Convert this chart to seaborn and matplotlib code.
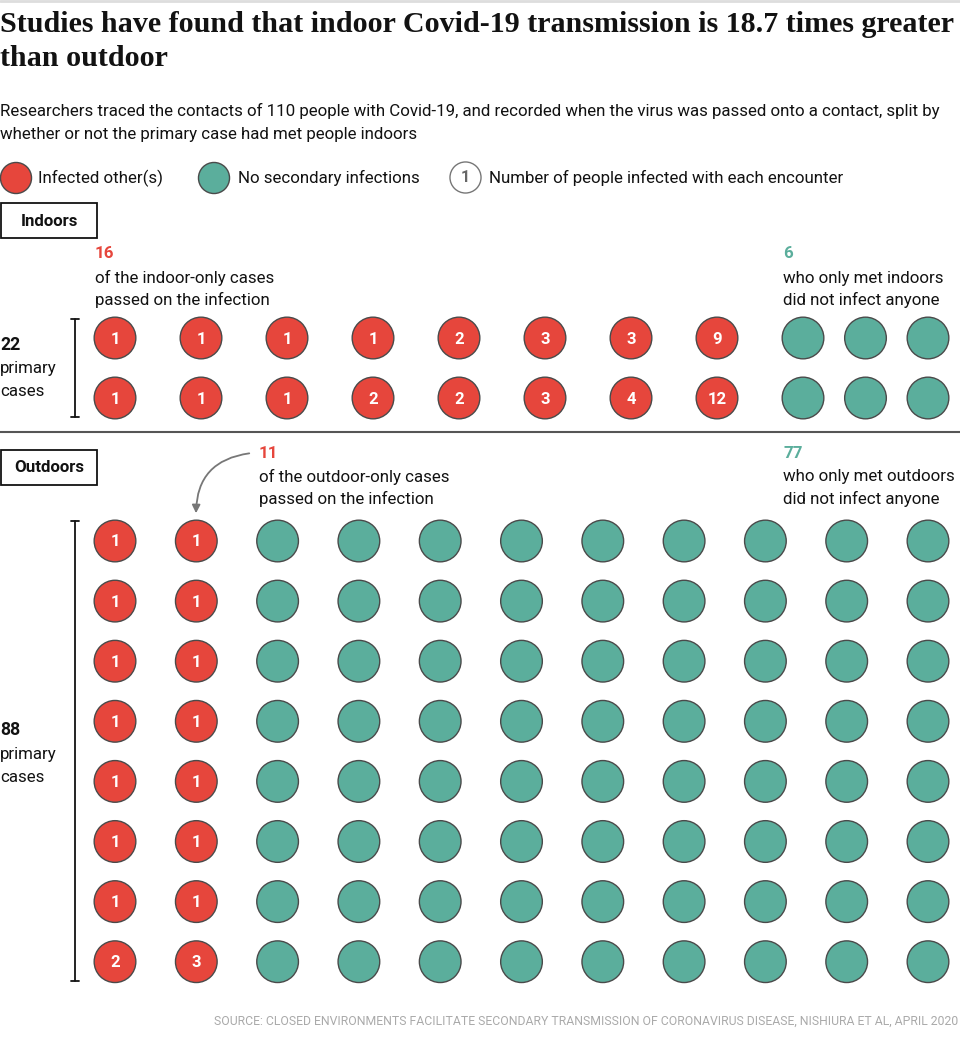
import numpy as np
import pandas as pd
import seaborn as sns
import matplotlib.pyplot as plt
from matplotlib.patches import Rectangle

# data
indoor_row1 = [1, 1, 1, 1, 2, 3, 3, 9]
indoor_row2 = [1, 1, 1, 2, 2, 3, 4, 12]
indoor_none = 6          # indoor cases with no secondary infection
outdoor_col1 = [1, 1, 1, 1, 1, 1, 1, 2]
outdoor_col2 = [1, 1, 1, 1, 1, 1, 1, 3]
outdoor_none = 72        # green dots drawn in the outdoor grid
outdoor_cols = 11

RED = '#e6463c'
TEAL = '#5bae9c'
EDGE = '#4a4a4a'
DARK = '#121212'
FS = 12.2  # body text size

sns.set_theme(style='white')
plt.rcParams['font.family'] = ['Roboto', 'DejaVu Sans']

# build dot table (pixel layout)
rows = []
for r, vals in enumerate([indoor_row1, indoor_row2]):
    for c, v in enumerate(vals):
        rows.append(dict(x=115 + c * 86, y=338 + r * 60, n=v, status='infected'))
for i in range(indoor_none):
    r, c = divmod(i, 3)
    rows.append(dict(x=803 + c * 62.5, y=338 + r * 60, n=0, status='none'))
for c, col in enumerate([outdoor_col1, outdoor_col2]):
    for r, v in enumerate(col):
        rows.append(dict(x=115 + c * 81.3, y=541 + r * 60.1, n=v, status='infected'))
for i in range(outdoor_none):
    r, c = divmod(i, outdoor_cols - 2)
    rows.append(dict(x=115 + (c + 2) * 81.3, y=541 + r * 60.1, n=0, status='none'))
dots = pd.DataFrame(rows)

fig = plt.figure(figsize=(9.6, 10.48), dpi=100)
ax = fig.add_axes([0, 0, 1, 1])
ax.set_xlim(0, 960)
ax.set_ylim(1048, 0)
ax.axis('off')

sns.scatterplot(data=dots, x='x', y='y', hue='status', palette={'infected': RED, 'none': TEAL},
                s=900, edgecolor=EDGE, linewidth=1, legend=False, ax=ax, zorder=3)
for _, d in dots[dots.n > 0].iterrows():
    ax.text(d.x, d.y + 1, str(d.n), color='white', fontsize=12, fontweight='bold',
            ha='center', va='center', zorder=4)

# title + subtitle
ax.axhline(1, color='#dddddd', lw=2)
ax.text(0, 25, 'Studies have found that indoor Covid-19 transmission is 18.7 times greater',
        fontsize=21.6, fontweight='bold', family='Liberation Serif', color=DARK, va='center')
ax.text(0, 58, 'than outdoor', fontsize=21.6, fontweight='bold', family='Liberation Serif',
        color=DARK, va='center')
ax.text(0, 111, 'Researchers traced the contacts of 110 people with Covid-19, and recorded when the virus was passed onto a contact, split by',
        fontsize=FS, color=DARK, va='center')
ax.text(0, 135, 'whether or not the primary case had met people indoors', fontsize=FS, color=DARK, va='center')

# legend
ax.scatter([16, 214], [178, 178], s=500, c=[RED, TEAL], edgecolors=EDGE, linewidths=1, zorder=3)
ax.scatter([465], [177], s=500, c='white', edgecolors='#777777', linewidths=1, zorder=3)
ax.text(465, 177, '1', fontsize=11.5, fontweight='bold', color='#666666', ha='center', va='center', zorder=4)
ax.text(38, 178, 'Infected other(s)', fontsize=FS, color=DARK, va='center')
ax.text(238, 178, 'No secondary infections', fontsize=FS, color=DARK, va='center')
ax.text(489, 178, 'Number of people infected with each encounter', fontsize=FS, color=DARK, va='center')

# section boxes
for y0, label in [(203, 'Indoors'), (450, 'Outdoors')]:
    ax.add_patch(Rectangle((1, y0), 96, 35, fill=False, edgecolor=DARK, lw=1.3))
    ax.text(49, y0 + 18, label, fontsize=FS, fontweight='bold', color=DARK, ha='center', va='center')
ax.axhline(432, color='#555555', lw=1.5)

# annotations
ax.text(95, 254, '16', fontsize=FS, fontweight='bold', color=RED, va='center')
ax.text(95, 278, 'of the indoor-only cases', fontsize=FS, color=DARK, va='center')
ax.text(95, 300, 'passed on the infection', fontsize=FS, color=DARK, va='center')
ax.text(783, 254, str(indoor_none), fontsize=FS, fontweight='bold', color=TEAL, va='center')
ax.text(783, 278, 'who only met indoors', fontsize=FS, color=DARK, va='center')
ax.text(783, 300, 'did not infect anyone', fontsize=FS, color=DARK, va='center')

ax.text(259, 454, '11', fontsize=FS, fontweight='bold', color=RED, va='center')
ax.text(259, 477, 'of the outdoor-only cases', fontsize=FS, color=DARK, va='center')
ax.text(259, 499, 'passed on the infection', fontsize=FS, color=DARK, va='center')
ax.text(783, 454, '77', fontsize=FS, fontweight='bold', color=TEAL, va='center')
ax.text(783, 477, 'who only met outdoors', fontsize=FS, color=DARK, va='center')
ax.text(783, 499, 'did not infect anyone', fontsize=FS, color=DARK, va='center')
ax.annotate('', xy=(196, 516), xytext=(252, 453),
            arrowprops=dict(arrowstyle='-|>', color='#777777', lw=1.3,
                            connectionstyle='arc3,rad=0.45', mutation_scale=12))

# brackets + primary case counts
for top, bot, num, ymid in [(319, 417, '22', 345), (521, 981, '88', 730)]:
    ax.plot([75, 75], [top, bot], color=DARK, lw=1.3)
    ax.plot([71, 79], [top, top], color=DARK, lw=1.3)
    ax.plot([71, 79], [bot, bot], color=DARK, lw=1.3)
    ax.text(0, ymid, num, fontsize=FS + 0.5, fontweight='bold', color=DARK, va='center')
    ax.text(0, ymid + 24, 'primary', fontsize=FS, color=DARK, va='center')
    ax.text(0, ymid + 47, 'cases', fontsize=FS, color=DARK, va='center')

ax.text(958, 1021, 'SOURCE: CLOSED ENVIRONMENTS FACILITATE SECONDARY TRANSMISSION OF CORONAVIRUS DISEASE, NISHIURA ET AL, APRIL 2020',
        fontsize=8.8, color='#aaaaaa', ha='right', va='center')

fig.savefig('out.png', dpi=100)
